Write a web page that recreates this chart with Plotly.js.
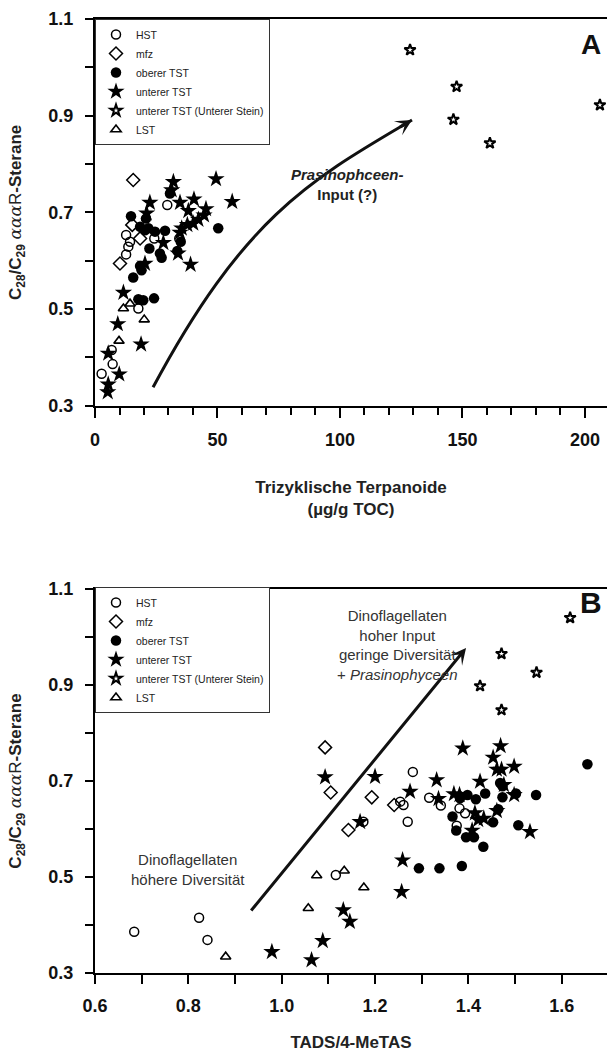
<!DOCTYPE html>
<html><head><meta charset="utf-8">
<script src="https://cdn.plot.ly/plotly-3.0.1.min.js"></script>
<style>html,body{margin:0;padding:0;background:#fff}#chart{width:607px;height:1059px}</style>
</head><body><div id="chart"></div>
<script>
// ---------- Panel A : Trizyklische Terpanoide vs C28/C29 ----------
const hstA_x = [2.7, 7.2, 6.8, 17.7, 12.7, 13.6, 14.3, 12.7, 29.5, 34.4, 24.2];
const hstA_y = [0.366, 0.386, 0.415, 0.501, 0.613, 0.629, 0.639, 0.653, 0.715, 0.646, 0.646];
const mfzA_x = [15.6, 15.2, 18.4, 10.2];
const mfzA_y = [0.767, 0.674, 0.646, 0.594];
const obA_x = [14.7, 20.8, 30.6, 18.4, 20.4, 21.8, 24.5, 28.6, 22.2, 26.5, 27.2, 18.4, 19.0, 15.6, 35.0, 50.3, 17.7, 19.7, 24.1, 33.6];
const obA_y = [0.692, 0.687, 0.739, 0.670, 0.663, 0.667, 0.660, 0.662, 0.625, 0.615, 0.606, 0.589, 0.580, 0.565, 0.639, 0.667, 0.520, 0.518, 0.522, 0.620];
const unA_x = [5.4, 5.2, 5.4, 9.9, 9.3, 11.6, 18.8, 20.4, 27.9, 33.9, 39.0, 32.0, 31.3, 49.4, 56.0, 22.4, 21.1, 34.7, 40.4, 38.1, 45.3, 44.5, 42.2, 40.1, 37.7, 35.4, 34.7];
const unA_y = [0.344, 0.328, 0.408, 0.365, 0.469, 0.534, 0.427, 0.594, 0.637, 0.615, 0.592, 0.763, 0.746, 0.769, 0.722, 0.720, 0.698, 0.720, 0.727, 0.703, 0.707, 0.694, 0.685, 0.677, 0.674, 0.667, 0.658];
const usA_x = [128.6, 147.6, 146.3, 161.2, 206.1];
const usA_y = [1.036, 0.960, 0.892, 0.843, 0.922];
const lstA_x = [11.6, 14.3, 9.8, 20.1];
const lstA_y = [0.501, 0.511, 0.434, 0.478];

// ---------- Panel B : TADS/4-MeTAS vs C28/C29 ----------
const hstB_x = [0.684, 0.823, 0.841, 1.116, 1.281, 1.254, 1.261, 1.270, 1.316, 1.341, 1.381, 1.393, 1.375, 1.175];
const hstB_y = [0.386, 0.415, 0.369, 0.504, 0.719, 0.657, 0.650, 0.615, 0.665, 0.649, 0.643, 0.633, 0.607, 0.615];
const mfzB_x = [1.093, 1.105, 1.193, 1.241, 1.143];
const mfzB_y = [0.770, 0.676, 0.666, 0.650, 0.598];
const obB_x = [1.382, 1.398, 1.416, 1.436, 1.473, 1.502, 1.545, 1.366, 1.464, 1.453, 1.507, 1.374, 1.395, 1.412, 1.432, 1.294, 1.338, 1.386, 1.468, 1.473, 1.655];
const obB_y = [0.664, 0.671, 0.662, 0.674, 0.666, 0.674, 0.671, 0.626, 0.641, 0.614, 0.608, 0.597, 0.583, 0.583, 0.563, 0.518, 0.518, 0.523, 0.696, 0.689, 0.735];
const unB_x = [0.979, 1.064, 1.088, 1.132, 1.146, 1.093, 1.200, 1.168, 1.259, 1.257, 1.275, 1.332, 1.336, 1.369, 1.381, 1.388, 1.414, 1.421, 1.433, 1.408, 1.425, 1.453, 1.461, 1.471, 1.469, 1.476, 1.461, 1.498, 1.498, 1.532];
const unB_y = [0.344, 0.327, 0.367, 0.431, 0.407, 0.708, 0.709, 0.615, 0.535, 0.469, 0.678, 0.702, 0.663, 0.673, 0.671, 0.768, 0.633, 0.619, 0.622, 0.597, 0.699, 0.749, 0.724, 0.724, 0.773, 0.692, 0.638, 0.730, 0.671, 0.594];
const usB_x = [1.471, 1.546, 1.425, 1.471, 1.618];
const usB_y = [0.965, 0.926, 0.898, 0.848, 1.040];
const lstB_x = [0.880, 1.057, 1.075, 1.134, 1.176];
const lstB_y = [0.334, 0.435, 0.503, 0.513, 0.478];

const seriesNames = ['HST', 'mfz', 'oberer TST', 'unterer TST', 'unterer TST (Unterer Stein)', 'LST'];

const FONT = 'Arial, "Liberation Sans", Helvetica, sans-serif';
const markerStyles = [
  {symbol: 'circle-open', size: 9, color: '#000', line: {width: 1.5, color: '#000'}},
  {symbol: 'diamond-open', size: 10, color: '#000', line: {width: 1.5, color: '#000'}},
  {symbol: 'circle', size: 10.5, color: '#000', line: {width: 0}},
  {symbol: 'star', size: 13, color: '#000', line: {width: 0}},
  {symbol: 'star-open', size: 8.5, color: '#000', line: {width: 2, color: '#000'}},
  {symbol: 'triangle-up-open', size: 9, color: '#000', line: {width: 1.6, color: '#000'}}
];

const dataA = [[hstA_x, hstA_y], [mfzA_x, mfzA_y], [obA_x, obA_y], [unA_x, unA_y], [usA_x, usA_y], [lstA_x, lstA_y]];
const dataB = [[hstB_x, hstB_y], [mfzB_x, mfzB_y], [obB_x, obB_y], [unB_x, unB_y], [usB_x, usB_y], [lstB_x, lstB_y]];

const traces = [];
dataA.forEach((d, i) => traces.push({
  type: 'scatter', mode: 'markers', x: d[0], y: d[1], name: seriesNames[i],
  xaxis: 'x', yaxis: 'y', legend: 'legend', marker: markerStyles[i], hoverinfo: 'x+y'
}));
dataB.forEach((d, i) => traces.push({
  type: 'scatter', mode: 'markers', x: d[0], y: d[1], name: seriesNames[i],
  xaxis: 'x2', yaxis: 'y2', legend: 'legend2', marker: markerStyles[i], hoverinfo: 'x+y'
}));

const yTitle = '<b>C<sub>28</sub>/C<sub>29</sub></b> <span style="font-family:\'DejaVu Serif\'"><i>ααα</i></span>R<b>-Sterane</b>';

function baseAxis() {
  return {
    showgrid: false, zeroline: false, showline: true, linecolor: '#000', linewidth: 2,
    ticks: 'outside', tickcolor: '#000', tickwidth: 2, ticklen: 8,
    tickfont: {family: FONT, size: 18, color: '#111', weight: 'bold'},
    fixedrange: true
  };
}

const xA = Object.assign(baseAxis(), {
  domain: [0, 1], anchor: 'y', range: [0, 209], tick0: 0, dtick: 50, ticklen: 10,
  mirror: true, ticklabelstandoff: 7,
  minor: {ticks: 'outside', dtick: 10, tick0: 0, ticklen: 7, tickwidth: 2, tickcolor: '#000'},
  title: {text: 'Trizyklische Terpanoide<br>(µg/g TOC)', standoff: 32,
    font: {family: FONT, size: 17, color: '#222', weight: 'bold'}}
});
const yA = Object.assign(baseAxis(), {
  domain: [0.5947, 1], anchor: 'x', range: [0.3, 1.1], tick0: 0.3, dtick: 0.2, tickformat: '.1f',
  ticklabelstandoff: 8,
  minor: {ticks: 'outside', dtick: 0.1, tick0: 0.3, ticklen: 8, tickwidth: 2, tickcolor: '#000'},
  title: {text: yTitle, standoff: 22, font: {family: FONT, size: 17, color: '#222'}}
});
const xB = Object.assign(baseAxis(), {
  domain: [0, 1], anchor: 'y2', range: [0.6, 1.697], tick0: 0.6, dtick: 0.2, tickformat: '.1f', ticklen: 9,
  mirror: true, ticklabelstandoff: 6,
  minor: {ticks: 'outside', dtick: 0.1, tick0: 0.6, ticklen: 9, tickwidth: 2, tickcolor: '#000'},
  title: {text: 'TADS/4-MeTAS', standoff: 22,
    font: {family: FONT, size: 17, color: '#222', weight: 'bold'}}
});
const yB = Object.assign(baseAxis(), {
  domain: [0, 0.4025], anchor: 'x2', range: [0.3, 1.1], tick0: 0.3, dtick: 0.2, tickformat: '.1f',
  ticklabelstandoff: 8,
  minor: {ticks: 'outside', dtick: 0.1, tick0: 0.3, ticklen: 8, tickwidth: 2, tickcolor: '#000'},
  title: {text: yTitle, standoff: 22, font: {family: FONT, size: 17, color: '#222'}}
});

const legendBase = {
  xref: 'paper', yref: 'paper', x: 0, xanchor: 'left', yanchor: 'top',
  bgcolor: '#fff', bordercolor: '#333', borderwidth: 1,
  font: {family: FONT, size: 10.5, color: '#222'}, traceorder: 'normal'
};

const layout = {
  width: 607, height: 1059,
  margin: {l: 95, r: 0, t: 19, b: 86},
  paper_bgcolor: '#fff', plot_bgcolor: '#fff',
  showlegend: true,
  xaxis: xA, yaxis: yA, xaxis2: xB, yaxis2: yB,
  legend: Object.assign({}, legendBase, {y: 1}),
  legend2: Object.assign({}, legendBase, {y: 0.4046}),
  shapes: [
    {type: 'path', xref: 'x', yref: 'y',
     path: 'M23.7,0.338 C61.2,0.694 88.6,0.769 129.4,0.891',
     line: {color: '#111', width: 3}}
  ],
  annotations: [
    {xref: 'x', yref: 'y', x: 129.4, y: 0.891, ax: 124.0, ay: 0.875, axref: 'x', ayref: 'y',
     showarrow: true, arrowhead: 3, arrowsize: 0.9, arrowwidth: 3, arrowcolor: '#111', text: ''},
    {xref: 'x', yref: 'y', x: 102.9, y: 0.758, showarrow: false, align: 'center',
     text: '<b><i>Prasinophceen-</i></b><br><b>Input (?)</b>',
     font: {family: FONT, size: 15, color: '#222'}},
    {xref: 'x', yref: 'y', x: 202.4, y: 1.048, showarrow: false,
     text: '<b>A</b>', font: {family: FONT, size: 28, color: '#111'}},
    {xref: 'x2', yref: 'y2', x: 1.395, y: 0.977, ax: 0.932, ay: 0.427, axref: 'x2', ayref: 'y2',
     showarrow: true, arrowhead: 3, arrowsize: 0.9, arrowwidth: 3, arrowcolor: '#111', text: ''},
    {xref: 'x2', yref: 'y2', x: 1.249, y: 0.983, showarrow: false, align: 'center',
     text: 'Dinoflagellaten<br>hoher Input<br>geringe Diversität<br>+ <i>Prasinophyceen</i>',
     font: {family: FONT, size: 15, color: '#333'}},
    {xref: 'x2', yref: 'y2', x: 0.799, y: 0.515, showarrow: false, align: 'center',
     text: 'Dinoflagellaten<br>höhere Diversität',
     font: {family: FONT, size: 15, color: '#333'}},
    {xref: 'x2', yref: 'y2', x: 1.663, y: 1.071, showarrow: false,
     text: '<b>B</b>', font: {family: FONT, size: 30, color: '#111'}}
  ]
};

Plotly.newPlot('chart', traces, layout, {displayModeBar: false, staticPlot: true});
</script></body></html>
